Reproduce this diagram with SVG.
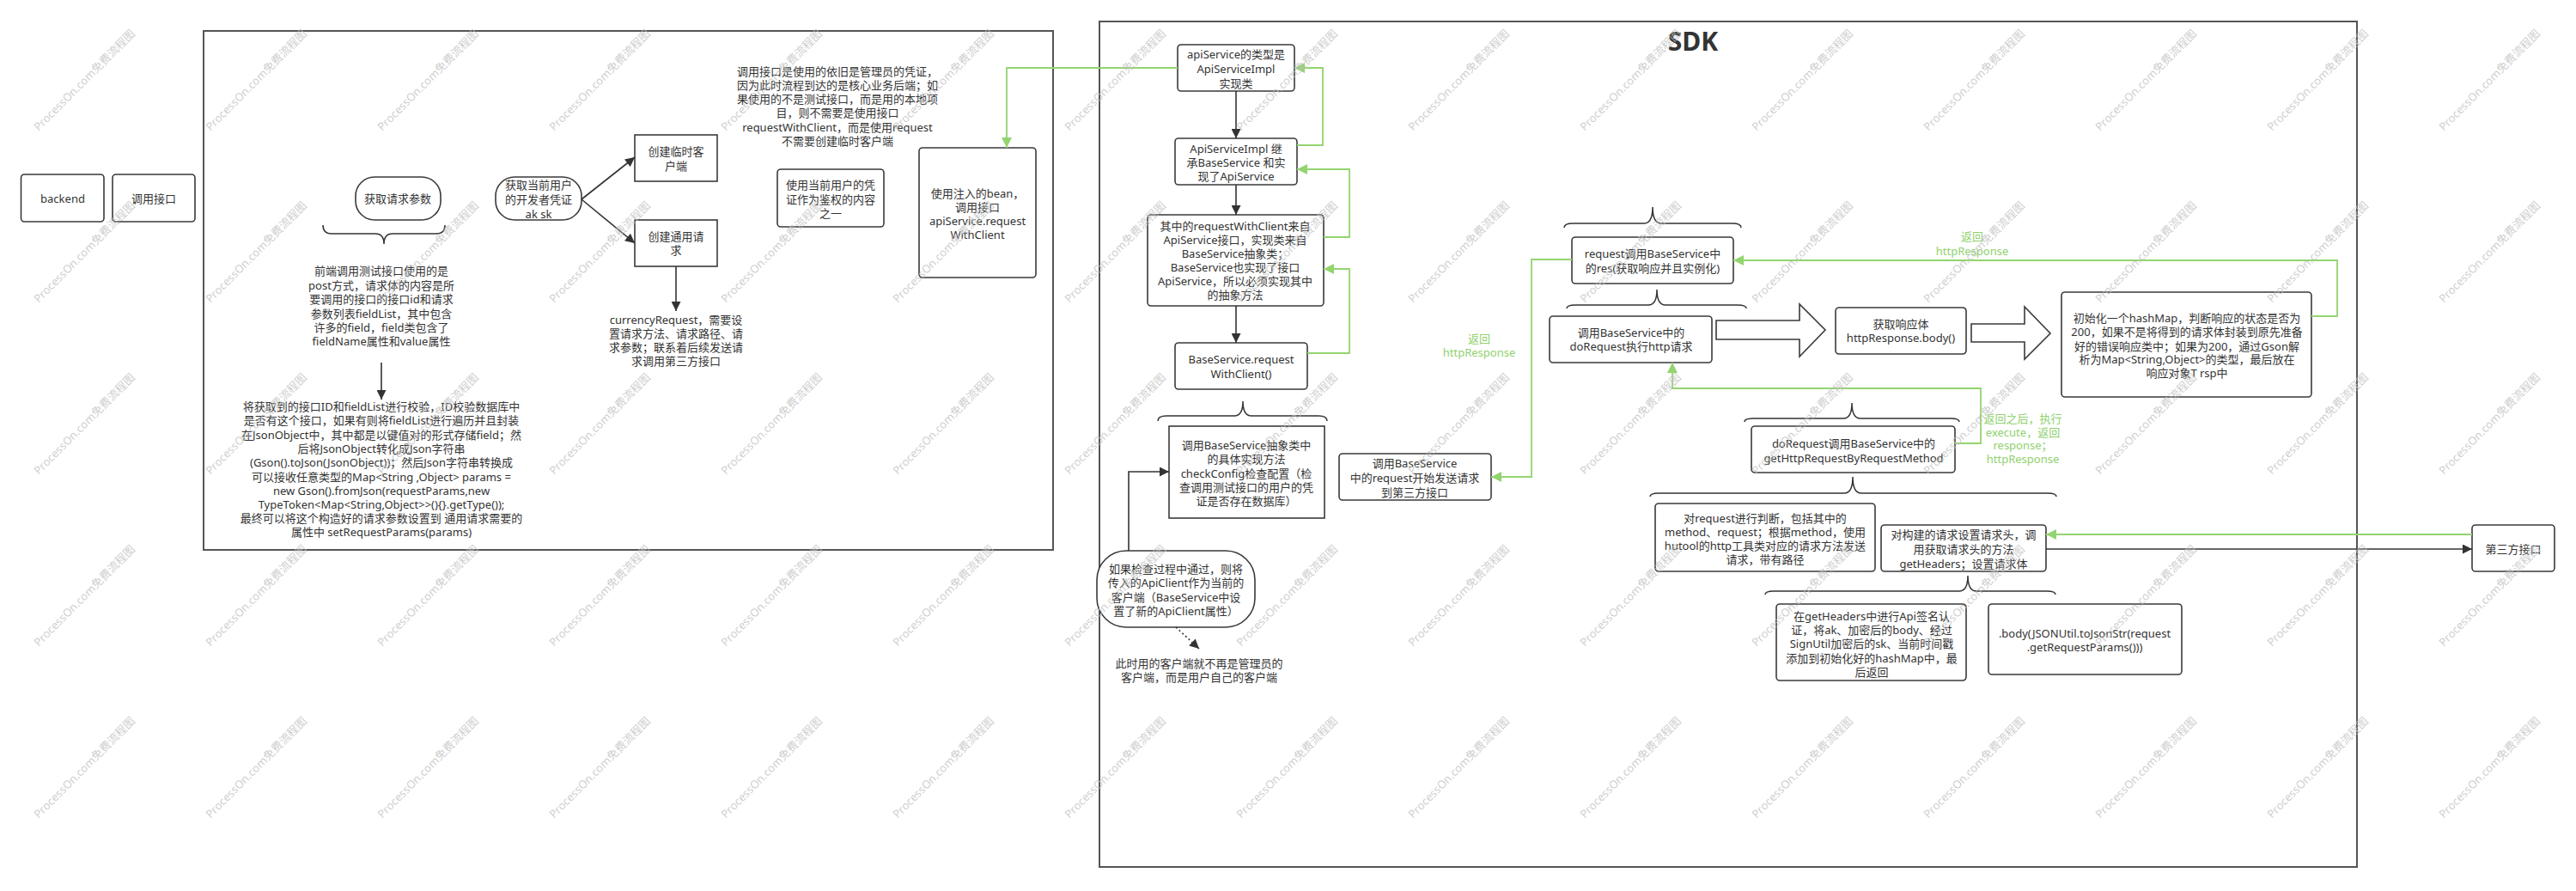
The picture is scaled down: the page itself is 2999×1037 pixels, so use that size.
<svg xmlns="http://www.w3.org/2000/svg" width="2999" height="1037" viewBox="0 0 2999 1037">
<style>
.box{fill:#fff;stroke:#3a3a3a;stroke-width:1.6}
.cont{fill:none;stroke:#555;stroke-width:2}
.t{font-family:"Noto Sans","Noto Sans CJK SC",sans-serif;font-size:13px;fill:#333;text-anchor:middle}
.gt{font-family:"Noto Sans","Noto Sans CJK SC",sans-serif;font-size:13px;fill:#8fd16e;text-anchor:middle}
.ln{fill:none;stroke:#333;stroke-width:1.6}
.gl{fill:none;stroke:#93d46f;stroke-width:1.8}
.br{fill:none;stroke:#333;stroke-width:1.5}
.wm{font-family:"Noto Sans","Noto Sans CJK SC",sans-serif;font-size:13px;fill:#c0c0c0;opacity:0.75}
</style>
<defs>
<marker id="ab" viewBox="0 0 10 10" refX="10" refY="5" markerWidth="12" markerHeight="11" markerUnits="userSpaceOnUse" orient="auto"><path d="M0,0 L10,5 L0,10 z" fill="#333"/></marker>
<marker id="ag" viewBox="0 0 10 10" refX="10" refY="5" markerWidth="13" markerHeight="12" markerUnits="userSpaceOnUse" orient="auto"><path d="M0,0 L10,5 L0,10 z" fill="#93d46f"/></marker>
</defs>
<rect width="2999" height="1037" fill="#fff"/>

<g id="containers">
<rect class="cont" x="237" y="36" width="989" height="604"/>
<rect class="cont" x="1280" y="25" width="1464" height="984"/>
<text x="1971" y="59" font-family="'Noto Sans','Noto Sans CJK SC',sans-serif" font-size="30" font-weight="bold" fill="#333" text-anchor="middle">SDK</text>
</g>

<g id="n-backend"><rect class="box" x="24.5" y="203" width="96.5" height="55" rx="4"/><text class="t" x="73" y="236">backend</text></g>
<g id="n-call"><rect class="box" x="131" y="203" width="96" height="55" rx="4"/><text class="t" x="179" y="236">调用接口</text></g>

<g id="n-getparams"><rect class="box" x="414" y="206" width="99" height="50" rx="22"/><text class="t" x="463" y="236">获取请求参数</text></g>
<g id="n-text1"><text class="t"><tspan x="444" y="320">前端调用测试接口使用的是</tspan><tspan x="444" y="337">post方式，请求体的内容是所</tspan><tspan x="444" y="353">要调用的接口的接口id和请求</tspan><tspan x="444" y="370">参数列表fieldList，其中包含</tspan><tspan x="444" y="386">许多的field，field类包含了</tspan><tspan x="444" y="402">fieldName属性和value属性</tspan></text></g>
<g id="n-text2"><text class="t"><tspan x="444" y="478">将获取到的接口ID和fieldList进行校验，ID校验数据库中</tspan><tspan x="444" y="494">是否有这个接口，如果有则将fieldList进行遍历并且封装</tspan><tspan x="444" y="511">在JsonObject中，其中都是以键值对的形式存储field；然</tspan><tspan x="444" y="527">后将JsonObject转化成Json字符串</tspan><tspan x="444" y="543">(Gson().toJson(JsonObject))；然后Json字符串转换成</tspan><tspan x="444" y="560">可以接收任意类型的Map&lt;String ,Object&gt; params =</tspan><tspan x="444" y="576">new Gson().fromJson(requestParams,new</tspan><tspan x="444" y="592">TypeToken&lt;Map&lt;String,Object&gt;&gt;(){}.getType());</tspan><tspan x="444" y="608">最终可以将这个构造好的请求参数设置到 通用请求需要的</tspan><tspan x="444" y="624">属性中 setRequestParams(params)</tspan></text></g>

<g id="n-getak"><rect class="box" x="577" y="206" width="100" height="50" rx="22"/><text class="t"><tspan x="627" y="220">获取当前用户</tspan><tspan x="627" y="237">的开发者凭证</tspan><tspan x="627" y="254">ak sk</tspan></text></g>
<g id="n-tmpclient"><rect class="box" x="739" y="157" width="96" height="54"/><text class="t"><tspan x="787" y="181">创建临时客</tspan><tspan x="787" y="198">户端</tspan></text></g>
<g id="n-commonreq"><rect class="box" x="739" y="256" width="96" height="54"/><text class="t"><tspan x="787" y="280">创建通用请</tspan><tspan x="787" y="296">求</tspan></text></g>
<g id="n-currency"><text class="t"><tspan x="787" y="377">currencyRequest，需要设</tspan><tspan x="787" y="393">置请求方法、请求路径、请</tspan><tspan x="787" y="409">求参数；联系着后续发送请</tspan><tspan x="787" y="425">求调用第三方接口</tspan></text></g>
<g id="n-note-admin"><text class="t"><tspan x="975" y="88">调用接口是使用的依旧是管理员的凭证，</tspan><tspan x="975" y="104">因为此时流程到达的是核心业务后端；如</tspan><tspan x="975" y="120">果使用的不是测试接口，而是用的本地项</tspan><tspan x="975" y="136">目，则不需要是使用接口</tspan><tspan x="975" y="153">requestWithClient，而是使用request</tspan><tspan x="975" y="169">不需要创建临时客户端</tspan></text></g>
<g id="n-usercred"><rect class="box" x="905" y="197" width="124" height="67" rx="4"/><text class="t"><tspan x="967" y="220">使用当前用户的凭</tspan><tspan x="967" y="237">证作为鉴权的内容</tspan><tspan x="967" y="253">之一</tspan></text></g>
<g id="n-bean"><rect class="box" x="1070" y="172" width="136" height="151" rx="4"/><text class="t"><tspan x="1138" y="230">使用注入的bean，</tspan><tspan x="1138" y="246">调用接口</tspan><tspan x="1138" y="262">apiService.request</tspan><tspan x="1138" y="278">WithClient</tspan></text></g>

<g id="n-apiservice"><rect class="box" x="1371" y="52" width="136" height="54" rx="4"/><text class="t"><tspan x="1439" y="68">apiService的类型是</tspan><tspan x="1439" y="85">ApiServiceImpl</tspan><tspan x="1439" y="102">实现类</tspan></text></g>
<g id="n-impl"><rect class="box" x="1368" y="161" width="142" height="54" rx="4"/><text class="t"><tspan x="1439" y="178">ApiServiceImpl 继</tspan><tspan x="1439" y="194">承BaseService 和实</tspan><tspan x="1439" y="210">现了ApiService</tspan></text></g>
<g id="n-rwc"><rect class="box" x="1336" y="250" width="205" height="106" rx="4"/><text class="t"><tspan x="1438" y="268">其中的requestWithClient来自</tspan><tspan x="1438" y="284">ApiService接口，实现类来自</tspan><tspan x="1438" y="300">BaseService抽象类；</tspan><tspan x="1438" y="316">BaseService也实现了接口</tspan><tspan x="1438" y="332">ApiService，所以必须实现其中</tspan><tspan x="1438" y="348">的抽象方法</tspan></text></g>
<g id="n-baserwc"><rect class="box" x="1368" y="399" width="154" height="54" rx="4"/><text class="t"><tspan x="1445" y="423">BaseService.request</tspan><tspan x="1445" y="440">WithClient()</tspan></text></g>
<g id="n-check"><rect class="box" x="1361" y="496" width="181" height="107"/><text class="t"><tspan x="1451" y="523">调用BaseService抽象类中</tspan><tspan x="1451" y="539">的具体实现方法</tspan><tspan x="1451" y="556">checkConfig检查配置（检</tspan><tspan x="1451" y="572">查调用测试接口的用户的凭</tspan><tspan x="1451" y="588">证是否存在数据库）</tspan></text></g>
<g id="n-sendreq"><rect class="box" x="1559" y="528" width="177" height="54" rx="4"/><text class="t"><tspan x="1647" y="544">调用BaseService</tspan><tspan x="1647" y="561">中的request开始发送请求</tspan><tspan x="1647" y="578">到第三方接口</tspan></text></g>
<g id="n-pass"><rect class="box" x="1277" y="641" width="184" height="89" rx="34"/><text class="t"><tspan x="1369" y="667">如果检查过程中通过，则将</tspan><tspan x="1369" y="683">传入的ApiClient作为当前的</tspan><tspan x="1369" y="700">客户端（BaseService中设</tspan><tspan x="1369" y="716">置了新的ApiClient属性）</tspan></text></g>
<g id="n-userclient"><text class="t"><tspan x="1396" y="777">此时用的客户端就不再是管理员的</tspan><tspan x="1396" y="793">客户端，而是用户自己的客户端</tspan></text></g>

<g id="n-res"><rect class="box" x="1830" y="276" width="188" height="54" rx="4"/><text class="t"><tspan x="1924" y="300">request调用BaseService中</tspan><tspan x="1924" y="317">的res(获取响应并且实例化)</tspan></text></g>
<g id="n-dorequest"><rect class="box" x="1804" y="368" width="189" height="54" rx="4"/><text class="t"><tspan x="1899" y="392">调用BaseService中的</tspan><tspan x="1899" y="408">doRequest执行http请求</tspan></text></g>
<g id="n-body"><rect class="box" x="2137" y="358" width="152" height="54" rx="4"/><text class="t"><tspan x="2213" y="382">获取响应体</tspan><tspan x="2213" y="398">httpResponse.body()</tspan></text></g>
<g id="n-hashmap"><rect class="box" x="2400" y="340" width="291" height="122" rx="4"/><text class="t"><tspan x="2546" y="375">初始化一个hashMap，判断响应的状态是否为</tspan><tspan x="2546" y="391">200，如果不是将得到的请求体封装到原先准备</tspan><tspan x="2546" y="408">好的错误响应类中；如果为200，通过Gson解</tspan><tspan x="2546" y="423">析为Map&lt;String,Object&gt;的类型，最后放在</tspan><tspan x="2546" y="439">响应对象T rsp中</tspan></text></g>
<g id="n-gethttp"><rect class="box" x="2039" y="496" width="237" height="54" rx="4"/><text class="t"><tspan x="2158" y="521">doRequest调用BaseService中的</tspan><tspan x="2158" y="538">getHttpRequestByRequestMethod</tspan></text></g>
<g id="n-judge"><rect class="box" x="1927" y="586" width="256" height="79" rx="4"/><text class="t"><tspan x="2055" y="608">对request进行判断，包括其中的</tspan><tspan x="2055" y="624">method、request；根据method，使用</tspan><tspan x="2055" y="640">hutool的http工具类对应的请求方法发送</tspan><tspan x="2055" y="656">请求，带有路径</tspan></text></g>
<g id="n-headers"><rect class="box" x="2190" y="611" width="192" height="54" rx="4"/><text class="t"><tspan x="2286" y="627">对构建的请求设置请求头，调</tspan><tspan x="2286" y="644">用获取请求头的方法</tspan><tspan x="2286" y="661">getHeaders；设置请求体</tspan></text></g>
<g id="n-sign"><rect class="box" x="2068" y="703" width="221" height="89" rx="4"/><text class="t"><tspan x="2179" y="722">在getHeaders中进行Api签名认</tspan><tspan x="2179" y="738">证，将ak、加密后的body、经过</tspan><tspan x="2179" y="754">SignUtil加密后的sk、当前时间戳</tspan><tspan x="2179" y="771">添加到初始化好的hashMap中，最</tspan><tspan x="2179" y="787">后返回</tspan></text></g>
<g id="n-jsonbody"><rect class="box" x="2315" y="703" width="225" height="82" rx="4"/><text class="t"><tspan x="2427" y="742">.body(JSONUtil.toJsonStr(request</tspan><tspan x="2427" y="758">.getRequestParams()))</tspan></text></g>
<g id="n-third"><rect class="box" x="2878" y="611" width="96" height="54" rx="4"/><text class="t" x="2926" y="644">第三方接口</text></g>

<g id="braces">
<path class="br" d="M376,262 Q376,272 386,272 L437,272 Q447,272 447,284 Q447,272 457,272 L508,272 Q518,272 518,262"/>
<path class="br" d="M1348,490 Q1348,484 1358,484 L1437,484 Q1447,484 1447,467 Q1447,484 1457,484 L1535,484 Q1545,484 1545,490"/>
<path class="br" d="M1821,265 Q1821,260 1831,260 L1914,260 Q1924,260 1924,241 Q1924,260 1934,260 L2017,260 Q2027,260 2027,265"/>
<path class="br" d="M1824,359 Q1824,355 1834,355 L1919,355 Q1929,355 1929,337 Q1929,355 1939,355 L2023,355 Q2033,355 2033,359"/>
<path class="br" d="M2031,491 Q2031,487 2041,487 L2146,487 Q2156,487 2156,469 Q2156,487 2166,487 L2271,487 Q2281,487 2281,491"/>
<path class="br" d="M1921,578 Q1921,574 1931,574 L2147,574 Q2157,574 2157,555 Q2157,574 2167,574 L2384,574 Q2394,574 2394,578"/>
<path class="br" d="M2055,692 Q2055,688 2065,688 L2281,688 Q2291,688 2291,670 Q2291,688 2301,688 L2383,688 Q2393,688 2393,692"/>
</g>

<g id="connectors">
<path class="ln" d="M444,422 V465" marker-end="url(#ab)"/>
<path class="ln" d="M677,232 L739,183" marker-end="url(#ab)"/>
<path class="ln" d="M677,232 L739,283" marker-end="url(#ab)"/>
<path class="ln" d="M787,310 V362" marker-end="url(#ab)"/>
<path class="ln" d="M1439,106 V161" marker-end="url(#ab)"/>
<path class="ln" d="M1439,215 V250" marker-end="url(#ab)"/>
<path class="ln" d="M1439,356 V399" marker-end="url(#ab)"/>
<path class="ln" d="M1314,641 V549 H1361" marker-end="url(#ab)"/>
<path class="ln" d="M1369,730 L1396,755" stroke-dasharray="2,3" marker-end="url(#ab)"/>
<path class="ln" d="M2382,639 H2878" marker-end="url(#ab)"/>
<polygon class="box" points="1998,373 2095,373 2095,354 2125,384 2095,415 2095,395 1998,395"/>
<polygon class="box" points="2295,377 2357,377 2357,357 2387,388 2357,418 2357,398 2295,398"/>
<path class="gl" d="M1371,79 H1172 V172" marker-end="url(#ag)"/>
<path class="gl" d="M1510,169 H1540 V79 H1507" marker-end="url(#ag)"/>
<path class="gl" d="M1541,276 H1571 V197 H1510" marker-end="url(#ag)"/>
<path class="gl" d="M1522,411 H1571 V313 H1541" marker-end="url(#ag)"/>
<path class="gl" d="M1830,302 H1783 V555 H1736" marker-end="url(#ag)"/>
<path class="gl" d="M2691,368 H2721 V303 H2018" marker-end="url(#ag)"/>
<path class="gl" d="M2276,516 H2306 V452 H1947 V422" marker-end="url(#ag)"/>
<path class="gl" d="M2878,622 H2382" marker-end="url(#ag)"/>
<text class="gt"><tspan x="1722" y="399">返回</tspan><tspan x="1722" y="415">httpResponse</tspan></text>
<text class="gt"><tspan x="2296" y="280">返回</tspan><tspan x="2296" y="297">httpResponse</tspan></text>
<text class="gt"><tspan x="2355" y="492">返回之后，执行</tspan><tspan x="2355" y="508">execute，返回</tspan><tspan x="2355" y="523">response；</tspan><tspan x="2355" y="539">httpResponse</tspan></text>
</g>

<g id="watermark">
<text class="wm" transform="translate(45,153) rotate(-45)">ProcessOn.com免费流程图</text>
<text class="wm" transform="translate(245,153) rotate(-45)">ProcessOn.com免费流程图</text>
<text class="wm" transform="translate(445,153) rotate(-45)">ProcessOn.com免费流程图</text>
<text class="wm" transform="translate(645,153) rotate(-45)">ProcessOn.com免费流程图</text>
<text class="wm" transform="translate(845,153) rotate(-45)">ProcessOn.com免费流程图</text>
<text class="wm" transform="translate(1045,153) rotate(-45)">ProcessOn.com免费流程图</text>
<text class="wm" transform="translate(1245,153) rotate(-45)">ProcessOn.com免费流程图</text>
<text class="wm" transform="translate(1445,153) rotate(-45)">ProcessOn.com免费流程图</text>
<text class="wm" transform="translate(1645,153) rotate(-45)">ProcessOn.com免费流程图</text>
<text class="wm" transform="translate(1845,153) rotate(-45)">ProcessOn.com免费流程图</text>
<text class="wm" transform="translate(2045,153) rotate(-45)">ProcessOn.com免费流程图</text>
<text class="wm" transform="translate(2245,153) rotate(-45)">ProcessOn.com免费流程图</text>
<text class="wm" transform="translate(2445,153) rotate(-45)">ProcessOn.com免费流程图</text>
<text class="wm" transform="translate(2645,153) rotate(-45)">ProcessOn.com免费流程图</text>
<text class="wm" transform="translate(2845,153) rotate(-45)">ProcessOn.com免费流程图</text>
<text class="wm" transform="translate(45,353) rotate(-45)">ProcessOn.com免费流程图</text>
<text class="wm" transform="translate(245,353) rotate(-45)">ProcessOn.com免费流程图</text>
<text class="wm" transform="translate(445,353) rotate(-45)">ProcessOn.com免费流程图</text>
<text class="wm" transform="translate(645,353) rotate(-45)">ProcessOn.com免费流程图</text>
<text class="wm" transform="translate(845,353) rotate(-45)">ProcessOn.com免费流程图</text>
<text class="wm" transform="translate(1045,353) rotate(-45)">ProcessOn.com免费流程图</text>
<text class="wm" transform="translate(1245,353) rotate(-45)">ProcessOn.com免费流程图</text>
<text class="wm" transform="translate(1445,353) rotate(-45)">ProcessOn.com免费流程图</text>
<text class="wm" transform="translate(1645,353) rotate(-45)">ProcessOn.com免费流程图</text>
<text class="wm" transform="translate(1845,353) rotate(-45)">ProcessOn.com免费流程图</text>
<text class="wm" transform="translate(2045,353) rotate(-45)">ProcessOn.com免费流程图</text>
<text class="wm" transform="translate(2245,353) rotate(-45)">ProcessOn.com免费流程图</text>
<text class="wm" transform="translate(2445,353) rotate(-45)">ProcessOn.com免费流程图</text>
<text class="wm" transform="translate(2645,353) rotate(-45)">ProcessOn.com免费流程图</text>
<text class="wm" transform="translate(2845,353) rotate(-45)">ProcessOn.com免费流程图</text>
<text class="wm" transform="translate(45,553) rotate(-45)">ProcessOn.com免费流程图</text>
<text class="wm" transform="translate(245,553) rotate(-45)">ProcessOn.com免费流程图</text>
<text class="wm" transform="translate(445,553) rotate(-45)">ProcessOn.com免费流程图</text>
<text class="wm" transform="translate(645,553) rotate(-45)">ProcessOn.com免费流程图</text>
<text class="wm" transform="translate(845,553) rotate(-45)">ProcessOn.com免费流程图</text>
<text class="wm" transform="translate(1045,553) rotate(-45)">ProcessOn.com免费流程图</text>
<text class="wm" transform="translate(1245,553) rotate(-45)">ProcessOn.com免费流程图</text>
<text class="wm" transform="translate(1445,553) rotate(-45)">ProcessOn.com免费流程图</text>
<text class="wm" transform="translate(1645,553) rotate(-45)">ProcessOn.com免费流程图</text>
<text class="wm" transform="translate(1845,553) rotate(-45)">ProcessOn.com免费流程图</text>
<text class="wm" transform="translate(2045,553) rotate(-45)">ProcessOn.com免费流程图</text>
<text class="wm" transform="translate(2245,553) rotate(-45)">ProcessOn.com免费流程图</text>
<text class="wm" transform="translate(2445,553) rotate(-45)">ProcessOn.com免费流程图</text>
<text class="wm" transform="translate(2645,553) rotate(-45)">ProcessOn.com免费流程图</text>
<text class="wm" transform="translate(2845,553) rotate(-45)">ProcessOn.com免费流程图</text>
<text class="wm" transform="translate(45,753) rotate(-45)">ProcessOn.com免费流程图</text>
<text class="wm" transform="translate(245,753) rotate(-45)">ProcessOn.com免费流程图</text>
<text class="wm" transform="translate(445,753) rotate(-45)">ProcessOn.com免费流程图</text>
<text class="wm" transform="translate(645,753) rotate(-45)">ProcessOn.com免费流程图</text>
<text class="wm" transform="translate(845,753) rotate(-45)">ProcessOn.com免费流程图</text>
<text class="wm" transform="translate(1045,753) rotate(-45)">ProcessOn.com免费流程图</text>
<text class="wm" transform="translate(1245,753) rotate(-45)">ProcessOn.com免费流程图</text>
<text class="wm" transform="translate(1445,753) rotate(-45)">ProcessOn.com免费流程图</text>
<text class="wm" transform="translate(1645,753) rotate(-45)">ProcessOn.com免费流程图</text>
<text class="wm" transform="translate(1845,753) rotate(-45)">ProcessOn.com免费流程图</text>
<text class="wm" transform="translate(2045,753) rotate(-45)">ProcessOn.com免费流程图</text>
<text class="wm" transform="translate(2245,753) rotate(-45)">ProcessOn.com免费流程图</text>
<text class="wm" transform="translate(2445,753) rotate(-45)">ProcessOn.com免费流程图</text>
<text class="wm" transform="translate(2645,753) rotate(-45)">ProcessOn.com免费流程图</text>
<text class="wm" transform="translate(2845,753) rotate(-45)">ProcessOn.com免费流程图</text>
<text class="wm" transform="translate(45,953) rotate(-45)">ProcessOn.com免费流程图</text>
<text class="wm" transform="translate(245,953) rotate(-45)">ProcessOn.com免费流程图</text>
<text class="wm" transform="translate(445,953) rotate(-45)">ProcessOn.com免费流程图</text>
<text class="wm" transform="translate(645,953) rotate(-45)">ProcessOn.com免费流程图</text>
<text class="wm" transform="translate(845,953) rotate(-45)">ProcessOn.com免费流程图</text>
<text class="wm" transform="translate(1045,953) rotate(-45)">ProcessOn.com免费流程图</text>
<text class="wm" transform="translate(1245,953) rotate(-45)">ProcessOn.com免费流程图</text>
<text class="wm" transform="translate(1445,953) rotate(-45)">ProcessOn.com免费流程图</text>
<text class="wm" transform="translate(1645,953) rotate(-45)">ProcessOn.com免费流程图</text>
<text class="wm" transform="translate(1845,953) rotate(-45)">ProcessOn.com免费流程图</text>
<text class="wm" transform="translate(2045,953) rotate(-45)">ProcessOn.com免费流程图</text>
<text class="wm" transform="translate(2245,953) rotate(-45)">ProcessOn.com免费流程图</text>
<text class="wm" transform="translate(2445,953) rotate(-45)">ProcessOn.com免费流程图</text>
<text class="wm" transform="translate(2645,953) rotate(-45)">ProcessOn.com免费流程图</text>
<text class="wm" transform="translate(2845,953) rotate(-45)">ProcessOn.com免费流程图</text>
</g>
</svg>
